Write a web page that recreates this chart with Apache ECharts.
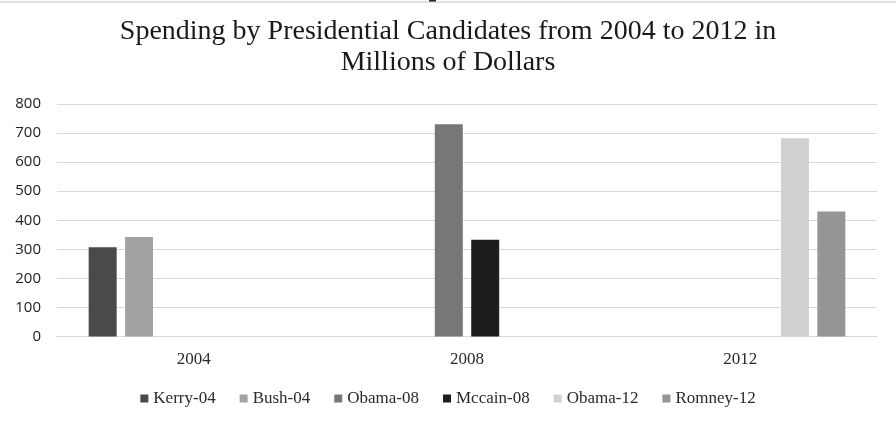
<!DOCTYPE html>
<html>
<head>
<meta charset="utf-8">
<script src="https://cdn.jsdelivr.net/npm/echarts@6/dist/echarts.min.js"></script>
<style>
  html, body { margin: 0; padding: 0; background: #fff; }
  #chart { width: 896px; height: 424px; }
</style>
</head>
<body>
<div id="chart"></div>
<script>
// Campaign spending, millions of dollars
const years = ['2004', '2008', '2012'];
const candidates = ['Kerry-04', 'Bush-04', 'Obama-08', 'Mccain-08', 'Obama-12', 'Romney-12'];
const kerry04  = [307, null, null];
const bush04   = [342, null, null];
const obama08  = [null, 730, null];
const mccain08 = [null, 333, null];
const obama12  = [null, null, 682];
const romney12 = [null, null, 430];
const yTicks = [0, 100, 200, 300, 400, 500, 600, 700, 800];

const seriesValues = [kerry04, bush04, obama08, mccain08, obama12, romney12];
const shades = ['#4a4a4a', '#a3a3a3', '#777777', '#1d1d1d', '#d1d1d1', '#959595'];

const serif = '"Liberation Serif", "DejaVu Serif", serif';

const chart = echarts.init(document.getElementById('chart'), null, { renderer: 'canvas' });
chart.setOption({
  animation: false,
  backgroundColor: '#ffffff',
  title: {
    text: 'Spending by Presidential Candidates from 2004 to 2012 in\nMillions of Dollars',
    left: 'center',
    top: 11,
    textStyle: {
      fontFamily: serif,
      fontWeight: 'normal',
      fontSize: 28,
      lineHeight: 31,
      color: '#1a1a1a'
    }
  },
  legend: {
    data: candidates,
    bottom: 12,
    left: 'center',
    icon: 'rect',
    itemWidth: 8,
    itemHeight: 8,
    itemGap: 24,
    textStyle: { fontFamily: serif, fontSize: 17, color: '#2a2a2a' }
  },
  grid: { left: 57, right: 19, top: 104, bottom: 87.5 },
  xAxis: {
    type: 'category',
    data: years,
    axisTick: { show: false },
    axisLine: { lineStyle: { color: '#d9d9d9', width: 1 } },
    axisLabel: { fontFamily: serif, fontSize: 17, color: '#2a2a2a', margin: 15 }
  },
  yAxis: {
    type: 'value',
    min: yTicks[0],
    max: yTicks[yTicks.length - 1],
    interval: yTicks[1] - yTicks[0],
    axisLine: { show: false },
    axisTick: { show: false },
    splitLine: { lineStyle: { color: '#d9d9d9', width: 1 } },
    axisLabel: { fontFamily: '"Open Sans", "DejaVu Sans", sans-serif', fontSize: 15, color: '#222', margin: 16 }
  },
  graphic: [
    { type: 'line', shape: { x1: 0, y1: 2, x2: 896, y2: 2 }, style: { stroke: '#d6d6d6', lineWidth: 1.5 } },
    { type: 'rect', shape: { x: 429, y: 0, width: 7, height: 1.5 }, style: { fill: '#222' } }
  ],
  series: candidates.map((name, i) => ({
    name: name,
    type: 'bar',
    data: seriesValues[i],
    barWidth: 28,
    barGap: '30%',
    itemStyle: { color: shades[i] }
  }))
});
</script>
</body>
</html>
